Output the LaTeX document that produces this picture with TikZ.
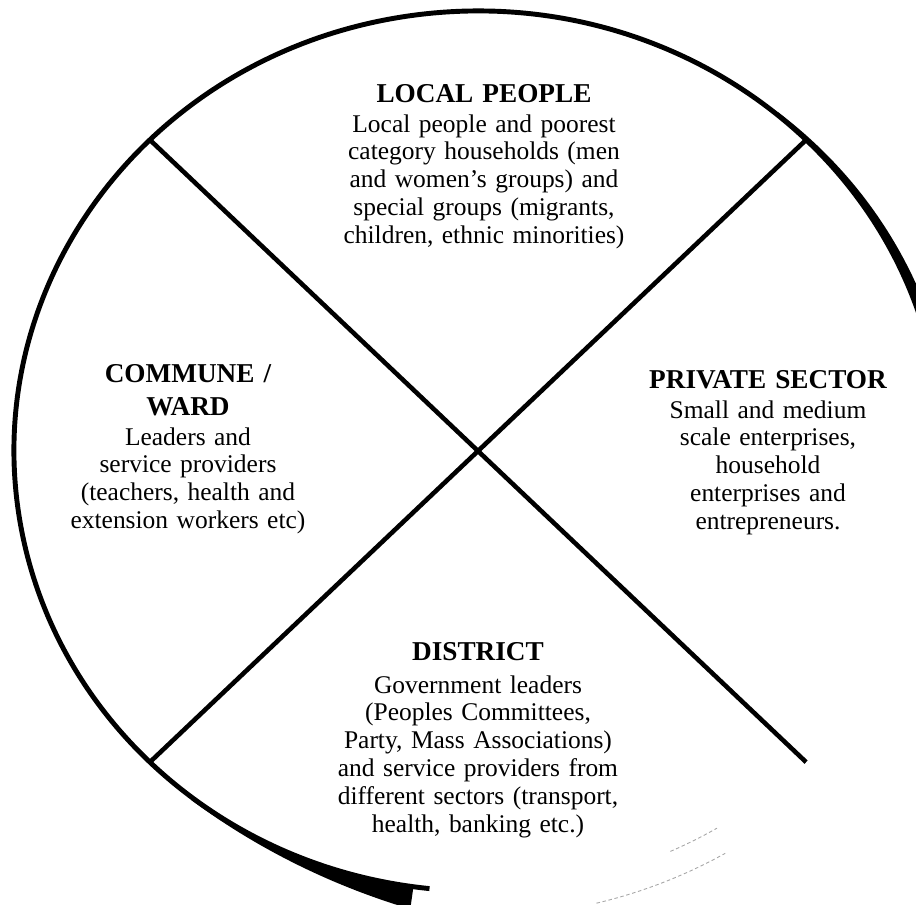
\documentclass[tikz,border=0pt]{standalone}
\usepackage{fontspec}
\setmainfont{Liberation Serif}
\usepackage{tikz}

\newcommand{\headfont}{\fontsize{15.5}{18.8}\selectfont\bfseries}
\newcommand{\bodyfont}{\fontsize{14.5}{15.9}\selectfont}

\tikzset{
  ring/.style={line width=2.8pt},
  divider/.style={line width=2.6pt},
  faint/.style={gray!70, line width=0.5pt, dash pattern=on 2pt off 1.5pt},
  head/.style={font=\headfont, text width=6cm, align=center, anchor=base, inner sep=0pt},
  blurb/.style={font=\bodyfont, text width=6.5cm, align=center, anchor=base, inner sep=0pt}
}

\begin{document}
\begin{tikzpicture}[x=0.02cm, y=0.02cm]

\useasboundingbox (-478, -453) rectangle (438, 451);

\coordinate (ne) at (45:464 and 440);
\coordinate (nw) at (135:464 and 440);
\coordinate (sw) at (225:464 and 440);
\coordinate (se) at (315:464 and 440);

\draw [ring] (10:464 and 440) arc [start angle=10, end angle=264, x radius=464, y radius=440];
\fill plot [domain=50:8, samples=40] ({(466.5+0.2*(50-\x))*cos(\x)}, {(442.5+0.2*(50-\x))*sin(\x)})
  -- plot [domain=8:50, samples=40] ({464*cos(\x)}, {440*sin(\x)}) -- cycle;
\fill plot [domain=232:262, samples=40] ({(466.5+20*((\x-232)/30)^2)*cos(\x)}, {(442.5+20*((\x-232)/30)^2)*sin(\x)})
  -- plot [domain=262:232, samples=40] ({464*cos(\x)}, {440*sin(\x)}) -- cycle;
\draw [faint] (-65.5:464 and 440) arc [start angle=-65.5, end angle=-59, x radius=464, y radius=440];
\draw [faint] (-76:490 and 466) arc [start angle=-76, end angle=-59.7, x radius=490, y radius=466];

\draw [divider] (nw) -- (se);
\draw [divider] (ne) -- (sw);

\node [head] (localhead) at (6, 349) {LOCAL PEOPLE};
\node [blurb] (localtext) at (6, 319) {Local people and poorest\\ category households (men\\ and women's groups) and\\ special groups (migrants,\\ children, ethnic minorities)};

\node [head] (communehead) at (-290, 69) {COMMUNE /\\ WARD};
\node [blurb] (communetext) at (-290, 6) {Leaders and\\ service providers\\ (teachers, health and\\ extension workers etc)};

\node [head] (privatehead) at (290, 63) {PRIVATE SECTOR};
\node [blurb] (privatetext) at (290, 33) {Small and medium\\ scale enterprises,\\ household\\ enterprises and\\ entrepreneurs.};

\node [head] (districthead) at (0, -209) {DISTRICT};
\node [blurb] (districttext) at (0, -242) {Government leaders\\ (Peoples Committees,\\ Party, Mass Associations)\\ and service providers from\\ different sectors (transport,\\ health, banking etc.)};

\end{tikzpicture}
\end{document}
